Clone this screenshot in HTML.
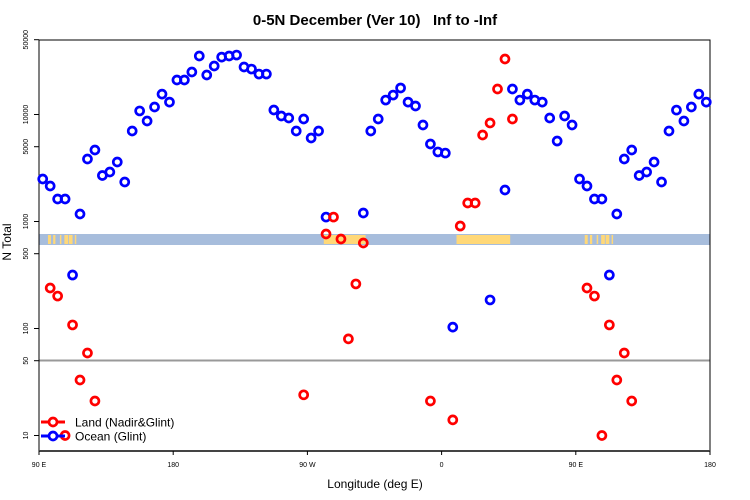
<!DOCTYPE html>
<html><head><meta charset="utf-8"><style>
body{margin:0;background:#fff;}
svg{display:block;font-family:"Liberation Sans",sans-serif;}
</style></head><body>
<svg id="chart" width="750" height="500" viewBox="0 0 750 500">
<text x="375" y="25" text-anchor="middle" font-size="15" font-weight="bold" style="white-space:pre">0-5N December (Ver 10)&#160;&#160; Inf to -Inf</text>
<g id="band"></g>
<line x1="39" y1="360.5" x2="710" y2="360.5" stroke="#999" stroke-width="2"/>
<rect x="39" y="40" width="671" height="411" fill="none" stroke="#000" stroke-width="1"/>
<line x1="39" y1="451" x2="710" y2="451" stroke="#444" stroke-width="2"/>
<g id="yaxis"></g>
<g id="xaxis"></g>
<text x="375" y="488" text-anchor="middle" font-size="12">Longitude (deg E)</text>
<text transform="translate(11,242) rotate(-90)" text-anchor="middle" font-size="12">N Total</text>
<g id="marks"></g>
<g>
<g>
<line x1="41" y1="422" x2="65" y2="422" stroke="#f00" stroke-width="3"/>
<circle cx="53" cy="422" r="4" fill="#fff" stroke="#f00" stroke-width="2.7"/>
<text x="75" y="426.5" font-size="12">Land (Nadir&amp;Glint)</text></g>
<g>
<line x1="41" y1="436" x2="65" y2="436" stroke="#00f" stroke-width="3"/>
<circle cx="53" cy="436" r="4" fill="#fff" stroke="#00f" stroke-width="2.7"/>
<text x="75" y="440.5" font-size="12">Ocean (Glint)</text></g>
</g>
</svg>
<script>
// bin index k: bin center longitude = 90 + 2.5 + 5k degrees (east, unwrapped)
const oceanBins = [0,1,2,3,4,5,6,7,8,9,10,11,12,13,14,15,16,17,18,19,20,21,22,23,24,25,26,27,28,29,30,31,32,33,34,35,36,37,38,43,44,45,46,47,48,49,50,51,52,53,54,55,60,62,63,64,65,66,67,68,69,70,71,72,73,74,75,76,77,78,79,80,81,82,83,84,85,86,87,88,89];
const oceanValues = [2495,2147,1623,1623,316,1175,3837,4660,2690,2900,3600,2340,7010,10800,8690,11750,15500,13060,21000,21000,24950,35200,23400,28400,34400,35200,35950,27800,26600,23880,23880,11020,9680,9270,7010,9080,6030,7010,1100,1200,7010,9080,13650,15200,17700,13060,12000,7980,5300,4470,4360,103,185,1970,17300,13650,15500,13650,13060,9270,5650,9680,7980,2495,2147,1623,1623,316,1175,3837,4660,2690,2900,3600,2340,7010,11000,8690,11750,15500,13060];
const landBins = [1,2,3,4,5,6,7,35,38,39,40,41,42,43,52,55,56,57,58,59,60,61,62,63,73,74,75,76,77,78,79];
const landValues = [239,201,10,108,33,59,21,24,764,1100,686,80,261,630,21,14,907,1489,1489,6430,8330,17300,33000,9080,239,201,10,108,33,59,21];
const yTicks = [10,50,100,500,1000,5000,10000,50000];
const xTickLon = [90,180,270,360,450,540];
const xTickLabels = ["90 E","180","90 W","0","90 E","180"];
// land segments of the band, in unwrapped longitude degrees
const landStart = [96,99.5,104,107,110,114,281,370,456,459.5,464,467,470,474];
const landEnd = [98,101,105,109.5,112.5,115,309,406,458,461,465,469.5,472.5,475];

const NS='http://www.w3.org/2000/svg';
function xScale(lon){return 39+(lon-90)*671/450;}
function yScale(v){return 435.5-(Math.log10(v)-1)*107;}
function binLon(k){return 92.5+5*k;}
function mk(t,a,p){const e=document.createElementNS(NS,t);for(const k in a)e.setAttribute(k,a[k]);p.appendChild(e);return e;}

const band=document.getElementById('band');
const bg=mk('rect',{x:39,y:234,width:671,height:11,fill:'#a7bddc'},band);


for(let i=0;i<landStart.length;i++){
  const r=mk('rect',{x:xScale(landStart[i]),y:235,width:xScale(landEnd[i])-xScale(landStart[i]),height:9,fill:'#ffd878'},band);
  
  
}

const ya=document.getElementById('yaxis');
yTicks.forEach(v=>{
  const y=yScale(v);
  const t=mk('line',{x1:34,y1:y,x2:39,y2:y,stroke:'#000'},ya);
  
  
  const l=mk('text',{transform:`translate(28,${y}) rotate(-90)`,'text-anchor':'middle','font-size':7},ya);
  l.textContent=v;
  
  
});
const xa=document.getElementById('xaxis');
xTickLon.forEach((lon,i)=>{
  const x=xScale(lon);
  const t=mk('line',{x1:x,y1:451,x2:x,y2:455,stroke:'#000'},xa);
  
  
  const l=mk('text',{x:x,y:467,'text-anchor':'middle','font-size':7},xa);
  l.textContent=xTickLabels[i];
  
  
});

const marks=document.getElementById('marks');
oceanBins.forEach((k,i)=>{
  const c=mk('circle',{cx:xScale(binLon(k)),cy:yScale(oceanValues[i]),r:4,fill:'none',stroke:'#00f','stroke-width':2.7},marks);
  
  
});
landBins.forEach((k,i)=>{
  const c=mk('circle',{cx:xScale(binLon(k)),cy:yScale(landValues[i]),r:4,fill:'none',stroke:'#f00','stroke-width':2.7},marks);
  
  
});
</script>
</body></html>
